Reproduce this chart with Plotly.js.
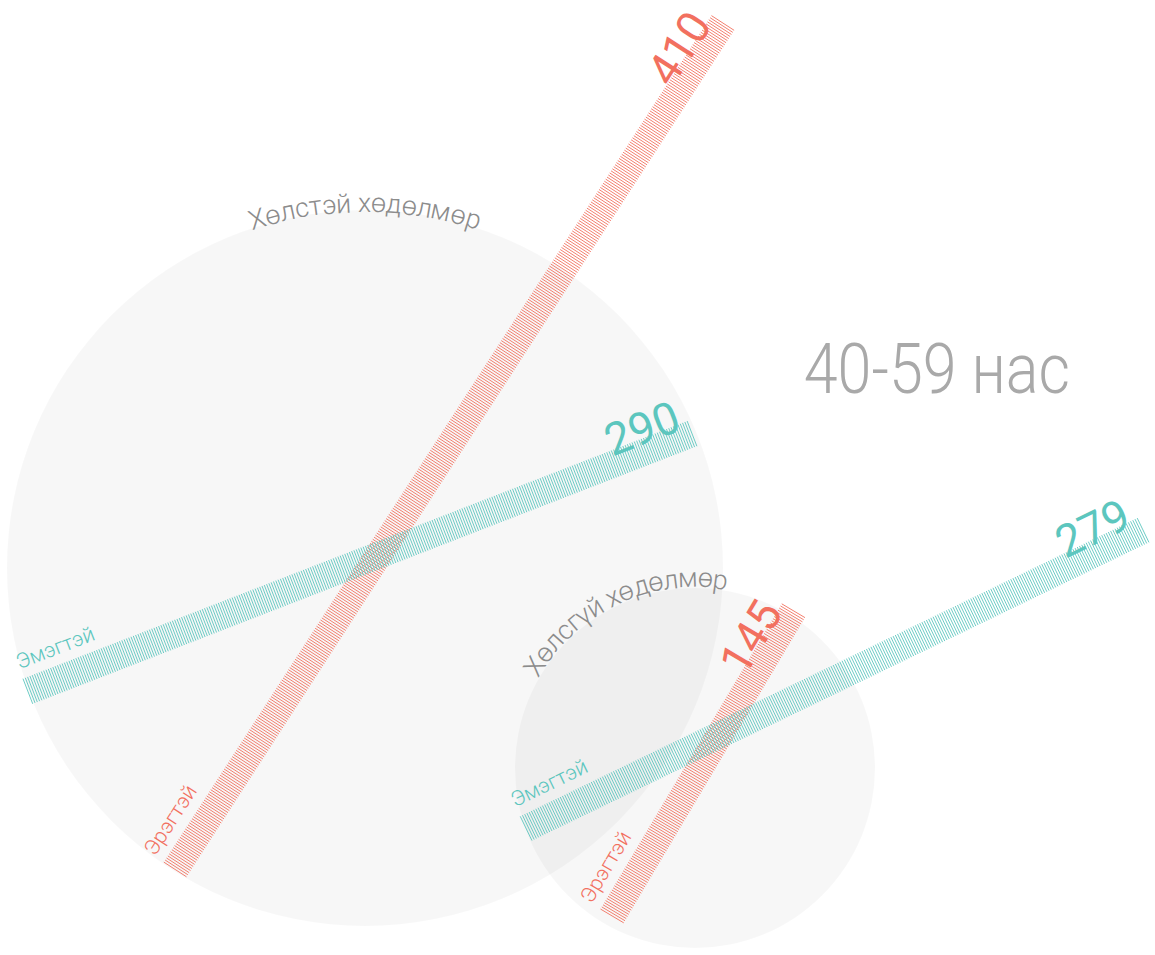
<!DOCTYPE html>
<html>
<head>
<meta charset="utf-8">
<script src="https://cdn.plot.ly/plotly-3.0.1.min.js"></script>
<style>html,body{margin:0;padding:0;background:#fff;}#chart{width:1155px;height:955px;}</style>
</head>
<body>
<div id="chart"></div>
<script>
// ---- data ----
const groups = ['Хөлстэй хөдөлмөр', 'Хөлсгүй хөдөлмөр'];
const seriesNames = ['Эрэгтэй', 'Эмэгтэй'];
const maleValues = [410, 145];
const femaleValues = [290, 279];
const chartTitle = '40-59 нас';

// ---- layout geometry (pixels) ----
const circles = [
  {cx: 365, cy: 568, r: 358, labelR: 365, labelAngle: 90},
  {cx: 695, cy: 768, r: 180, labelR: 190, labelAngle: 115}
];
const barStarts = [
  [{x: 174.5, y: 870.5, angle: 57.1}, {x: 26.7, y: 691.7, angle: 21.2}],
  [{x: 611.5, y: 917, angle: 59.3}, {x: 525, y: 829, angle: 25.8}]
];
const pxPerUnit = 2.465;
const barHalfWidth = 13.5;
const colors = ['#f2705f', '#5cc6be'];
const arcColor = '#8c8c8c';
const FONT = 'Roboto';

const ctx = document.createElement('canvas').getContext('2d');
function textWidth(t, size, weight) {
  ctx.font = weight + ' ' + size + 'px ' + FONT;
  return ctx.measureText(t).width;
}

const traces = [];
const shapes = [];
const annotations = [];

groups.forEach((g, gi) => {
  const c = circles[gi];
  shapes.push({type: 'circle', xref: 'x', yref: 'y', layer: 'below',
    x0: c.cx - c.r, x1: c.cx + c.r, y0: c.cy - c.r, y1: c.cy + c.r,
    fillcolor: 'rgba(0,0,0,0.032)', line: {width: 0}});

  // curved group label
  const fs = 27;
  const chars = Array.from(g);
  const widths = chars.map(ch => textWidth(ch, fs, 300));
  const total = widths.reduce((a, b) => a + b, 0);
  let s = 0;
  const phiC = c.labelAngle * Math.PI / 180;
  const phi0 = phiC + (total / 2) / c.labelR;
  chars.forEach((ch, i) => {
    const mid = s + widths[i] / 2;
    s += widths[i];
    if (ch === ' ') return;
    const phi = phi0 - mid / c.labelR;
    annotations.push({x: c.cx + c.labelR * Math.cos(phi), y: c.cy - c.labelR * Math.sin(phi),
      xref: 'x', yref: 'y', text: ch, showarrow: false, xanchor: 'center', yanchor: 'middle',
      textangle: 90 - phi * 180 / Math.PI,
      font: {family: FONT, size: fs, color: arcColor, weight: 300}});
  });

  const vals = [maleValues[gi], femaleValues[gi]];
  vals.forEach((v, si) => {
    const b = barStarts[gi][si];
    const a = b.angle * Math.PI / 180;
    const u = [Math.cos(a), -Math.sin(a)];
    const n = [-Math.sin(a), -Math.cos(a)];
    const xs = [], ys = [];
    for (let i = 0; i < v; i++) {
      const t = (i + 0.5) * pxPerUnit;
      const px = b.x + t * u[0], py = b.y + t * u[1];
      xs.push(px - barHalfWidth * n[0], px + barHalfWidth * n[0], null);
      ys.push(py - barHalfWidth * n[1], py + barHalfWidth * n[1], null);
    }
    traces.push({type: 'scatter', mode: 'lines', x: xs, y: ys, name: seriesNames[si],
      line: {color: colors[si], width: 0.9}, hoverinfo: 'skip', connectgaps: false});

    const L = v * pxPerUnit;
    const ex = b.x + L * u[0], ey = b.y + L * u[1];
    // value label near the bar end
    annotations.push({x: ex - 46 * u[0] + 23 * n[0], y: ey - 46 * u[1] + 23 * n[1],
      xref: 'x', yref: 'y', text: String(v), showarrow: false, xanchor: 'center', yanchor: 'middle',
      textangle: -b.angle, font: {family: FONT, size: 45, color: colors[si], weight: 400}});
    // series label near the bar start
    const lw = textWidth(seriesNames[si], 21, 300);
    const along = lw / 2 + 1;
    annotations.push({x: b.x + along * u[0] + 31 * n[0], y: b.y + along * u[1] + 31 * n[1],
      xref: 'x', yref: 'y', text: seriesNames[si], showarrow: false, xanchor: 'center', yanchor: 'middle',
      textangle: -b.angle, font: {family: FONT, size: 21, color: colors[si], weight: 300}});
  });
});

annotations.push({x: 937, y: 368, xref: 'x', yref: 'y', text: chartTitle, showarrow: false,
  xanchor: 'center', yanchor: 'middle', font: {family: FONT, size: 71, color: '#a9a9a9', weight: 300}});

const layout = {
  width: 1155, height: 955,
  margin: {l: 0, r: 0, t: 0, b: 0},
  paper_bgcolor: '#ffffff', plot_bgcolor: '#ffffff',
  showlegend: false,
  xaxis: {range: [0, 1155], visible: false, fixedrange: true},
  yaxis: {range: [955, 0], visible: false, fixedrange: true},
  shapes: shapes,
  annotations: annotations,
  hovermode: false
};
Plotly.newPlot('chart', traces, layout, {staticPlot: true, displayModeBar: false}).then(gd => {
  // narrow the big title slightly, like the condensed face in the reference
  const anns = gd.querySelectorAll('.annotation');
  const last = anns[anns.length - 1];
  const txt = last && last.querySelector('text');
  if (txt) {
    txt.style.transformBox = 'fill-box';
    txt.style.transformOrigin = 'center';
    txt.style.transform = 'scaleX(0.86)';
  }
});
</script>
</body>
</html>
